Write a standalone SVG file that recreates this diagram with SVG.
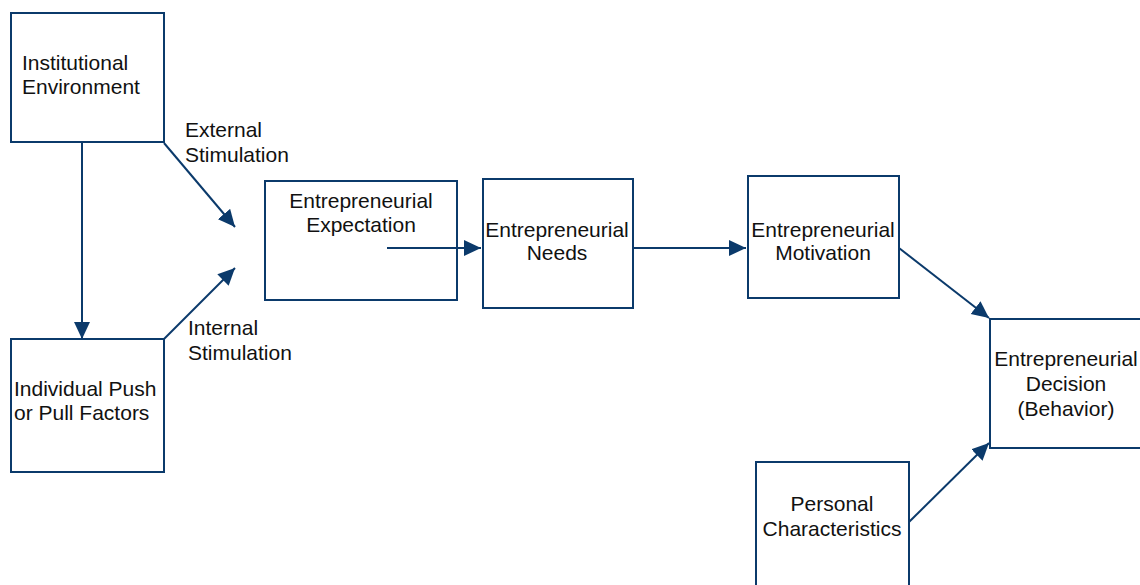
<svg xmlns="http://www.w3.org/2000/svg" width="1140" height="585" viewBox="0 0 1140 585">
<defs>
<style>
.box{fill:#fff;stroke:#0b3a6b;stroke-width:2}
.t{font-family:"Liberation Sans",Arial,sans-serif;font-size:21px;fill:#111}
.c{text-anchor:middle}
.ln{stroke:#0b3a6b;stroke-width:2;fill:none;marker-end:url(#ah)}
</style>
<marker id="ah" markerUnits="userSpaceOnUse" markerWidth="18" markerHeight="17" refX="17" refY="8" orient="auto">
<path d="M0,0 L17,8 L0,16 z" fill="#0b3a6b"/>
</marker>
</defs>
<rect width="1140" height="585" fill="#fff"/>
<g id="connectors">
<line class="ln" x1="82" y1="142" x2="82" y2="339"/>
<line class="ln" x1="164" y1="143" x2="235" y2="227"/>
<line class="ln" x1="164" y1="339" x2="235" y2="268"/>
<line class="ln" x1="387" y1="248" x2="481" y2="248"/>
<line class="ln" x1="633" y1="248" x2="746" y2="248"/>
<line class="ln" x1="899" y1="248" x2="989" y2="318"/>
<line class="ln" x1="909" y1="522" x2="989" y2="443"/>
</g>
<g id="labels">
<text class="t" x="185" y="137">External</text>
<text class="t" x="185" y="162">Stimulation</text>
<text class="t" x="188" y="335">Internal</text>
<text class="t" x="188" y="360">Stimulation</text>
</g>
<g id="institutional">
<rect class="box" x="11" y="13" width="153" height="129"/>
<text class="t" x="22" y="70">Institutional</text>
<text class="t" x="22" y="94">Environment</text>
</g>
<g id="individual">
<rect class="box" x="11" y="339" width="153" height="133"/>
<text class="t" x="14" y="396">Individual Push</text>
<text class="t" x="14" y="420">or Pull Factors</text>
</g>
<g id="expectation">
<rect class="box" x="265" y="181" width="192" height="119" fill-opacity="0"/>
<text class="t c" x="361" y="208">Entrepreneurial</text>
<text class="t c" x="361" y="232">Expectation</text>
</g>
<g id="needs">
<rect class="box" x="483" y="179" width="150" height="129"/>
<text class="t c" x="557" y="237">Entrepreneurial</text>
<text class="t c" x="557" y="260">Needs</text>
</g>
<g id="motivation">
<rect class="box" x="748" y="176" width="151" height="122"/>
<text class="t c" x="823" y="237">Entrepreneurial</text>
<text class="t c" x="823" y="260">Motivation</text>
</g>
<g id="decision">
<rect class="box" x="990" y="319" width="152" height="129"/>
<text class="t c" x="1066" y="366">Entrepreneurial</text>
<text class="t c" x="1066" y="391">Decision</text>
<text class="t c" x="1066" y="416">(Behavior)</text>
</g>
<g id="personal">
<rect class="box" x="756" y="462" width="153" height="130"/>
<text class="t c" x="832" y="511">Personal</text>
<text class="t c" x="832" y="536">Characteristics</text>
</g>
</svg>
